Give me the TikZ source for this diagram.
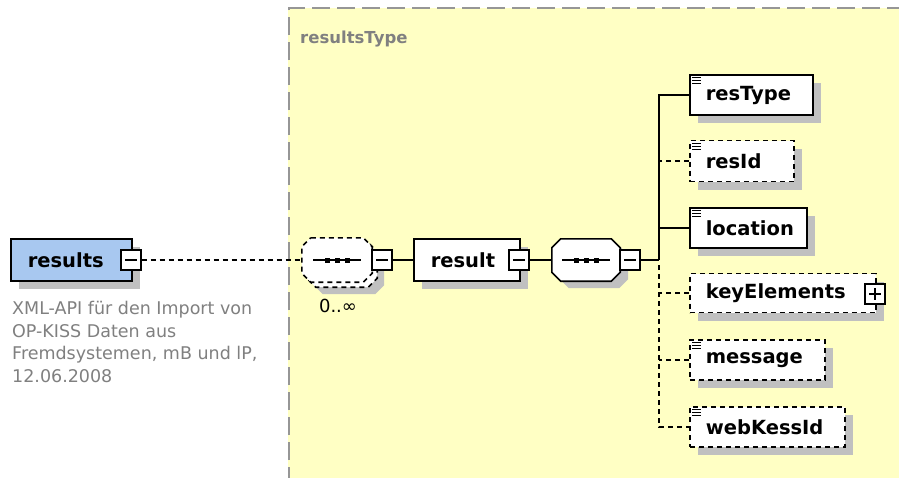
\documentclass[tikz,border=0pt]{standalone}
\usepackage{fontspec}
\setmainfont{DejaVu Sans}
\usetikzlibrary{shadows}
\definecolor{bgyellow}{RGB}{255,255,196}
\definecolor{elblue}{RGB}{168,200,240}
\definecolor{shgray}{RGB}{192,192,192}
\definecolor{txtgray}{RGB}{128,128,128}
\definecolor{bordergray}{RGB}{150,150,150}
\begin{document}
\begin{tikzpicture}[x=1pt,y=-1pt,
  shad/.style={drop shadow={shadow xshift=8pt,shadow yshift=-8pt,opacity=1,fill=shgray}},
  elem/.style={draw=black,line width=1.6pt,fill=white,shad,rectangle,
    inner xsep=16pt,inner ysep=0pt,align=left,minimum height=40pt,
    font=\fontsize{19.5}{22}\selectfont\bfseries,anchor=west},
  optional/.style={dash pattern=on 5pt off 4pt},
  conn/.style={line width=1.5pt,black},
  octa/.style 2 args={insert path={([xshift=#2]#1.north west) -- ([xshift=-#2]#1.north east)
    -- ([yshift=-#2]#1.north east) -- ([yshift=#2]#1.south east)
    -- ([xshift=-#2]#1.south east) -- ([xshift=#2]#1.south west)
    -- ([yshift=#2]#1.south west) -- ([yshift=-#2]#1.north west) -- cycle}},
  seqline/.style={draw=black,line width=1.6pt,fill=white},
  pmbox/.style={draw=black,fill=white,line width=1.3pt,minimum width=20pt,
    minimum height=20pt,inner sep=0pt,
    path picture={\draw[line width=1.3pt] ([xshift=4pt]path picture bounding box.west)
      -- ([xshift=-4pt]path picture bounding box.east);}},
  plusbox/.style={pmbox,
    path picture={\draw[line width=1.3pt] ([xshift=4pt]path picture bounding box.west)
      -- ([xshift=-4pt]path picture bounding box.east);
      \draw[line width=1.3pt] ([yshift=-4pt]path picture bounding box.north)
      -- ([yshift=4pt]path picture bounding box.south);}},
  icon/.style={line width=1.1pt,black}
]
\useasboundingbox (0,0) rectangle (899,477);
\fill[white] (0,0) rectangle (899,477);
% complex type background
\fill[bgyellow] (288,8) rectangle (905,485);
\draw[bordergray,line width=1.5pt,dash pattern=on 18pt off 7pt] (289,485) -- (289,8) -- (905,8);
\node[anchor=base west,inner sep=0pt,text=txtgray,font=\fontsize{16.5}{20}\selectfont\bfseries] (typelbl) at (300,43) {resultsType};

% root element
\node[elem,fill=elblue,text width=87pt,inner xsep=17pt,minimum height=42pt] (results) at (10,260) {results};
\node[pmbox] (resultsm) at (131,260) {};
\node[anchor=north west,inner sep=0pt,align=left,text=txtgray,font=\fontsize{17.5}{22.5}\selectfont] (desc) at (12,301) {XML-API für den Import von\\OP-KISS Daten aus\\Fremdsystemen, mB und lP,\\12.06.2008};

% repeating sequence (compositor nodes, outlines drawn below)
\node[inner sep=0pt,minimum width=70pt,minimum height=44pt] (seq1back) at (342,265) {};
\node[inner sep=0pt,minimum width=70pt,minimum height=44pt] (seq1) at (337,260) {};
\fill[shgray,transform canvas={shift={(7pt,-7pt)}},octa={seq1back}{9pt}];
\path[seqline,optional,octa={seq1back}{9pt}];
\path[seqline,optional,octa={seq1}{9pt}];
\draw[conn] ([xshift=-24pt]seq1.center) -- ([xshift=24pt]seq1.center);
\foreach \d in {-10,0,10} \fill ([xshift=\d pt-2.5pt,yshift=2.5pt]seq1.center) rectangle ++(5,5);
\node[pmbox] (seq1m) at (382,260) {};
\node[inner sep=0pt,font=\fontsize{18}{20}\selectfont] (card) at (338,306) {0..∞};

% result element
\node[elem,text width=72pt,inner xsep=17pt,minimum height=42pt] (result) at (413,260) {result};
\node[pmbox] (resultm) at (519,260) {};

% inner sequence
\node[inner sep=0pt,minimum width=68pt,minimum height=42pt] (seq2) at (586,260) {};
\fill[shgray,transform canvas={shift={(8pt,-7pt)}},octa={seq2}{9pt}];
\path[seqline,octa={seq2}{9pt}];
\draw[conn] ([xshift=-24pt]seq2.center) -- ([xshift=24pt]seq2.center);
\foreach \d in {-10,0,10} \fill ([xshift=\d pt-2.5pt,yshift=2.5pt]seq2.center) rectangle ++(5,5);
\node[pmbox] (seq2m) at (630,260) {};
\coordinate (trunk) at (659,260);

% children
\node[elem,text width=91pt] (resType) at (689,95) {resType};
\node[elem,optional,text width=72pt,minimum height=41pt] (resId) at (689,161) {resId};
\node[elem,text width=85pt] (location) at (689,228) {location};
\node[elem,optional,text width=154pt,minimum height=39pt] (keyElements) at (689,293) {keyElements};
\node[plusbox] (keyElementsp) at (875,294) {};
\node[elem,optional,text width=103pt] (message) at (689,360) {message};
\node[elem,optional,text width=123pt] (webKessId) at (689,427) {webKessId};

\foreach \n in {resType,resId,location,message,webKessId}
  \foreach \k in {3.5,6.5,9.5}
    \draw[icon] ([xshift=3pt,yshift=-\k pt]\n.north west) -- ++(9,0);

% connectors
\draw[conn,optional] (resultsm.east) -- (seq1.west);
\draw[conn] (seq1m.east) -- (result.west);
\draw[conn] (resultm.east) -- (seq2.west);
\draw[conn] (seq2m.east) -- (trunk);
\draw[conn] (resType.west) -| (trunk);
\draw[conn] (location.west) -| (trunk);
\draw[conn,optional] (resId.west) -- (resId.west -| trunk);
\draw[conn,optional] ([yshift=-5pt]trunk) |- (webKessId.west);
\draw[conn,optional] (keyElements.west) -- (keyElements.west -| trunk);
\draw[conn,optional] (message.west) -- (message.west -| trunk);
\end{tikzpicture}
\end{document}
